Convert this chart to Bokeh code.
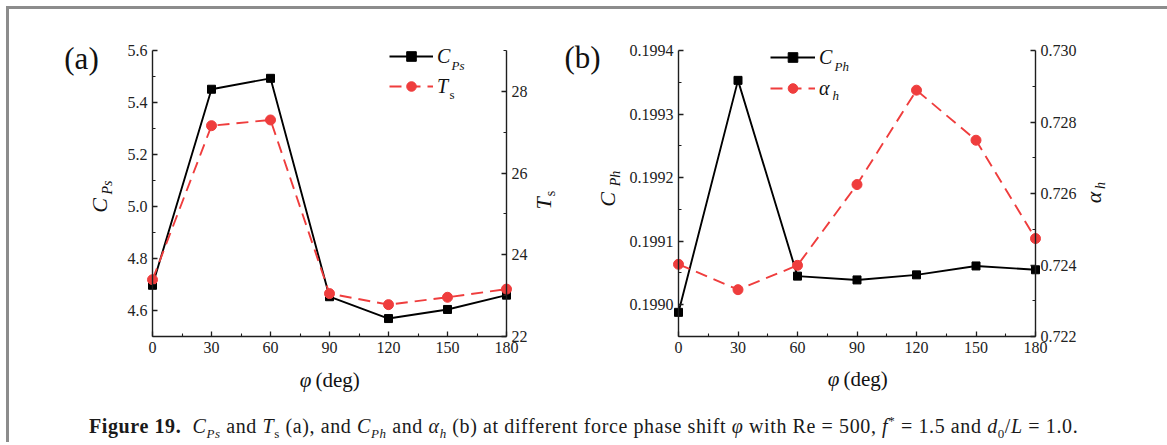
from math import pi
from bokeh.plotting import figure
from bokeh.models import (LinearAxis, Range1d, FixedTicker, NumeralTickFormatter,
                          Legend, LegendItem, Label, Div)
from bokeh.layouts import column
from bokeh.embed import file_html
from bokeh.resources import INLINE

# ---------------- data ----------------
phi = [0, 30, 60, 90, 120, 150, 180]
cps = [4.697, 5.451, 5.493, 4.653, 4.569, 4.604, 4.659]
ts = [23.39, 27.16, 27.30, 23.05, 22.78, 22.96, 23.16]
cph = [0.198988, 0.199353, 0.199045, 0.199039, 0.199047, 0.199061, 0.199055]
alpha_h = [0.72402, 0.72331, 0.72399, 0.72625, 0.72889, 0.72749, 0.72474]

x_ticks = [0, 30, 60, 90, 120, 150, 180]
x_minor = [15, 45, 75, 105, 135, 165]
cps_ticks = [4.6, 4.8, 5.0, 5.2, 5.4, 5.6]
cps_minor = [4.5, 4.7, 4.9, 5.1, 5.3, 5.5]
ts_ticks = [22, 24, 26, 28]
ts_minor = [23, 25, 27, 29]
cph_ticks = [0.1990, 0.1991, 0.1992, 0.1993, 0.1994]
cph_minor = [0.19895, 0.19905, 0.19915, 0.19925, 0.19935]
ah_ticks = [0.722, 0.724, 0.726, 0.728, 0.730]
ah_minor = [0.723, 0.725, 0.727, 0.729]

# ---------------- geometry / styles ----------------
FONT = "Liberation Serif"
AX = "#1e1e1e"
RED = "#ef3d3d"
BLK = "#000000"
OX, OY = 9, 9            # page position of the figure canvas
W, H = 1151, 385
A_L, A_R = 152, 506      # page x of panel (a) axes
B_L, B_R = 678, 1035     # page x of panel (b) axes
F_T, F_B = 50, 336       # page y of axes top / bottom


def rng(p0, v0, p1, v1, ps, pe):
    k = (v1 - v0) / (p1 - p0)
    return Range1d(start=v0 + (ps - p0) * k, end=v0 + (pe - p0) * k)


p = figure(width=W, height=H, output_backend="svg", toolbar_location=None,
           x_axis_location=None, y_axis_location=None,
           x_range=Range1d(OX, OX + W), y_range=Range1d(OY + H, OY),
           min_border=0, min_border_left=0, min_border_right=0,
           min_border_top=0, min_border_bottom=0)
p.outline_line_color = None
p.background_fill_color = "white"
p.border_fill_color = "white"
p.xgrid.visible = False
p.ygrid.visible = False

p.extra_x_ranges = {
    "xa": rng(A_L, 0, A_R, 180, OX, OX + W),
    "xb": rng(B_L, 0, B_R, 180, OX, OX + W),
}
p.extra_y_ranges = {
    "cps": rng(F_B, 4.5, F_T, 5.6, OY + H, OY),
    "ts": rng(F_B, 22, F_T, 29, OY + H, OY),
    "cph": rng(F_B, 0.19895, F_T, 0.1994, OY + H, OY),
    "ah": rng(F_B, 0.722, F_T, 0.730, OY + H, OY),
}


def axis(xr, yr, loc, bounds, ticks, minor, fmt, side):
    ax = LinearAxis(x_range_name=xr, y_range_name=yr, fixed_location=loc,
                    bounds=bounds)
    ax.ticker = FixedTicker(ticks=ticks, minor_ticks=minor)
    ax.formatter = NumeralTickFormatter(format=fmt)
    ax.axis_line_color = AX
    ax.axis_line_width = 1.4
    ax.major_tick_line_color = AX
    ax.minor_tick_line_color = AX
    ax.major_tick_line_width = 1.3
    ax.minor_tick_line_width = 1.1
    ax.major_tick_in = 5
    ax.major_tick_out = 0
    ax.minor_tick_in = 3
    ax.minor_tick_out = 0
    ax.major_label_text_font = FONT
    ax.major_label_text_font_size = "16px"
    ax.major_label_text_color = "#222222"
    ax.major_label_standoff = 5
    p.add_layout(ax, side)
    return ax


# panel (a) axes
axis("xa", "cps", 4.5, (0, 180), x_ticks, x_minor, "0", "below")
axis("xa", "cps", 0, (4.5, 5.6), cps_ticks, cps_minor, "0.0", "left")
axis("xa", "ts", 180, (22, 29), ts_ticks, ts_minor, "0", "right")
# panel (b) axes
axis("xb", "cph", 0.19895, (0, 180), x_ticks, x_minor, "0", "below")
axis("xb", "cph", 0, (0.19895, 0.1994), cph_ticks, cph_minor, "0.0000", "left")
axis("xb", "ah", 180, (0.722, 0.730), ah_ticks, ah_minor, "0.000", "right")

# series
DASH = "12 7"
l1 = p.line(phi, cps, x_range_name="xa", y_range_name="cps", line_color=BLK, line_width=1.9)
s1 = p.scatter(phi, cps, x_range_name="xa", y_range_name="cps", marker="square",
               size=8, fill_color=BLK, line_color=BLK)
l2 = p.line(phi, ts, x_range_name="xa", y_range_name="ts", line_color=RED,
            line_width=1.9, line_dash=DASH)
s2 = p.scatter(phi, ts, x_range_name="xa", y_range_name="ts", marker="circle",
               size=10, fill_color=RED, line_color=RED)
l3 = p.line(phi, cph, x_range_name="xb", y_range_name="cph", line_color=BLK, line_width=1.9)
s3 = p.scatter(phi, cph, x_range_name="xb", y_range_name="cph", marker="square",
               size=8, fill_color=BLK, line_color=BLK)
l4 = p.line(phi, alpha_h, x_range_name="xb", y_range_name="ah", line_color=RED,
            line_width=1.9, line_dash=DASH)
s4 = p.scatter(phi, alpha_h, x_range_name="xb", y_range_name="ah", marker="circle",
               size=10, fill_color=RED, line_color=RED)


def legend(items, left, bottom, gw, spacing):
    p.add_layout(Legend(items=items, location=(left - OX, OY + H - bottom),
                        orientation="vertical", glyph_width=gw, glyph_height=24,
                        label_height=24, label_standoff=4, spacing=spacing,
                        padding=0, margin=0, border_line_color=None,
                        background_fill_alpha=0, label_text_font=FONT,
                        label_text_font_style="italic", label_text_font_size="20px",
                        label_text_color="#111111"))


legend([LegendItem(label="C", renderers=[l1, s1]),
        LegendItem(label="T", renderers=[l2, s2])], 389, 98, 44, 6)
legend([LegendItem(label="C", renderers=[l3, s3]),
        LegendItem(label="α", renderers=[l4, s4])], 770, 100, 45, 7)


def text(x, y, s, size, style="normal", angle=0.0, align="center"):
    p.add_layout(Label(x=x, y=y, text=s, angle=angle, text_align=align,
                       text_baseline="middle", text_font=FONT,
                       text_font_style=style, text_font_size=size,
                       text_color="#111111"))


V = pi / 2
# panel labels
text(81, 58, "(a)", "31px")
text(582, 57, "(b)", "31px")
# legend subscripts
text(451, 65, "Ps", "13px", "italic", align="left")
text(449, 94, "s", "13px", align="left")
text(834, 66, "Ph", "13px", "italic", align="left")
text(832, 95, "h", "13px", "italic", align="left")
# y titles
text(99, 205, "C", "22px", "italic", V)
text(107, 187, "Ps", "14px", "italic", V)
text(543, 203, "T", "22px", "italic", V)
text(550, 193, "s", "14px", "normal", V)
text(607, 199, "C", "22px", "italic", V)
text(615, 178, "Ph", "14px", "italic", V)
text(1093, 197, "α", "22px", "italic", V)
text(1100, 185, "h", "14px", "italic", V)
# x titles
text(305, 379, "φ", "21px", "italic")
text(315, 379, "(deg)", "21px", align="left")
text(833, 378, "φ", "21px", "italic")
text(843, 378, "(deg)", "21px", align="left")

# ---------------- caption ----------------
SUB = '<sub style="font-size:13px">'
cap_html = (
    '<div style="padding-left:75px; padding-top:13px; white-space:nowrap; '
    'font-family:\'Liberation Serif\'; font-size:20px; letter-spacing:0.6px; color:#1a1a1a;">'
    '<b>Figure 19.</b>&nbsp;&nbsp;<i>C</i>' + SUB + '<i>Ps</i></sub> and '
    '<i>T</i>' + SUB + 's</sub> (a), and '
    '<i>C</i>' + SUB + '<i>Ph</i></sub> and '
    '<i>α</i>' + SUB + '<i>h</i></sub> (b) at different force phase shift '
    '<i>φ</i> with Re = 500, <i>f</i><sup style="font-size:13px">*</sup> = 1.5 and '
    '<i>d</i>' + SUB + '0</sub>/<i>L</i> = 1.0.</div>'
)
cap = Div(text=cap_html, width=W, height=38)

layout = column(p, cap,
                styles={"margin-left": "6px", "margin-top": "6px",
                        "border-left": "3px solid #8c8c8c",
                        "border-top": "3px solid #8c8c8c",
                        "border-right": "3px solid #8c8c8c"})

open("out.html", "w").write(file_html(layout, INLINE))
